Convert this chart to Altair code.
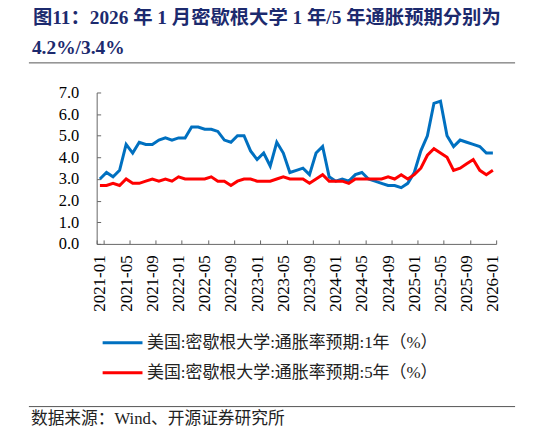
import altair as alt
import pandas as pd

# ---- data ----
months = [f"{y}-{m:02d}" for y in range(2021, 2027) for m in range(1, 13)][:61]
tick_labels = months[::4]

one_year = [3.0, 3.3, 3.1, 3.4, 4.6, 4.2, 4.7, 4.6, 4.6, 4.8, 4.9, 4.8,
            4.9, 4.9, 5.4, 5.4, 5.3, 5.3, 5.2, 4.8, 4.7, 5.0, 5.0, 4.3,
            3.9, 4.2, 3.6, 4.7, 4.2, 3.3, 3.4, 3.5, 3.2, 4.2, 4.5, 3.1,
            2.9, 3.0, 2.9, 3.2, 3.3, 3.0, 2.9, 2.8, 2.7, 2.7, 2.6, 2.8,
            3.3, 4.3, 5.0, 6.5, 6.6, 5.0, 4.5, 4.8, 4.7, 4.6, 4.5, 4.2,
            4.2]
five_year = [2.7, 2.7, 2.8, 2.7, 3.0, 2.8, 2.8, 2.9, 3.0, 2.9, 3.0, 2.9,
             3.1, 3.0, 3.0, 3.0, 3.0, 3.1, 2.9, 2.9, 2.7, 2.9, 3.0, 3.0,
             2.9, 2.9, 2.9, 3.0, 3.1, 3.0, 3.0, 3.0, 2.8, 3.0, 3.2, 2.9,
             2.9, 2.9, 2.8, 3.0, 3.0, 3.0, 3.0, 3.0, 3.1, 3.0, 3.2, 3.0,
             3.2, 3.5, 4.1, 4.4, 4.2, 4.0, 3.4, 3.5, 3.7, 3.9, 3.4, 3.2,
             3.4]

series_names = ["美国:密歇根大学:通胀率预期:1年（%）", "美国:密歇根大学:通胀率预期:5年（%）"]
series_colors = ["#0070C0", "#FF0000"]

title_line1 = "图11：2026 年 1 月密歇根大学 1 年/5 年通胀预期分别为"
title_line2 = "4.2%/3.4%"
source_text = "数据来源：Wind、开源证券研究所"

df = pd.DataFrame({
    "month": months * 2,
    "value": one_year + five_year,
    "series": [series_names[0]] * len(months) + [series_names[1]] * len(months),
})

SERIF = "Liberation Serif, Noto Sans CJK SC"
AXIS_COLOR = "#666666"

lines = alt.Chart(df).mark_line(strokeWidth=3).encode(
    x=alt.X("month:O",
            bandPosition=0.5,
            scale=alt.Scale(type="band", paddingInner=0, paddingOuter=0, domain=months),
            axis=alt.Axis(values=tick_labels, tickBand="extent", labelAngle=-90,
                          labelFont=SERIF, labelFontSize=17, labelColor="#000000",
                          tickSize={"expr": "-4"}, tickColor=AXIS_COLOR,
                          domainColor=AXIS_COLOR, labelPadding=15, title=None,
                          grid=False)),
    y=alt.Y("value:Q",
            scale=alt.Scale(domain=[0, 7], nice=False),
            axis=alt.Axis(values=[0, 1, 2, 3, 4, 5, 6, 7], format=".1f",
                          labelFont=SERIF, labelFontSize=16.5, labelColor="#000000",
                          tickSize={"expr": "-4"}, tickColor=AXIS_COLOR,
                          domainColor=AXIS_COLOR, labelPadding=22, title=None,
                          grid=False)),
    color=alt.Color("series:N",
                    scale=alt.Scale(domain=series_names, range=series_colors),
                    legend=alt.Legend(orient="none", legendX=4.5, legendY=229.8,
                                      direction="vertical", title=None,
                                      symbolType="stroke", symbolSize=1600,
                                      symbolStrokeWidth=3, labelFont=SERIF,
                                      labelFontSize=17, labelColor="#222222",
                                      labelOffset=3, rowPadding=-11.3,
                                      padding=0, labelLimit=400)),
)


def text_layer(txt, x, y, size, weight="normal", color="#000000"):
    return alt.Chart(pd.DataFrame({"t": [txt]})).mark_text(
        align="left", baseline="alphabetic", font=SERIF, fontSize=size,
        fontWeight=weight, color=color,
    ).encode(x=alt.value(x), y=alt.value(y), text="t:N")


def rule_layer(y):
    return alt.Chart(pd.DataFrame({"a": [0]})).mark_rule(
        color="#555555", strokeWidth=1
    ).encode(x=alt.value(-68), x2=alt.value(420), y=alt.value(y))


TITLE_COLOR = "#1c2a6e"
chart = alt.layer(
    lines,
    text_layer(title_line1, -64, -69, 19.4, "bold", TITLE_COLOR),
    text_layer(title_line2, -65, -39, 19.5, "bold", TITLE_COLOR),
    rule_layer(-29.7),
    rule_layer(315.3),
    text_layer(source_text, -66, 333, 16.8, "normal", "#222222"),
).properties(
    width=401, height=152,
    autosize=alt.AutoSizeParams(type="none"),
    padding={"left": 89, "top": 84, "right": 42, "bottom": 185},
).configure_view(stroke=None)

chart.save("out.html", embed_options={"renderer": "svg", "actions": False})
